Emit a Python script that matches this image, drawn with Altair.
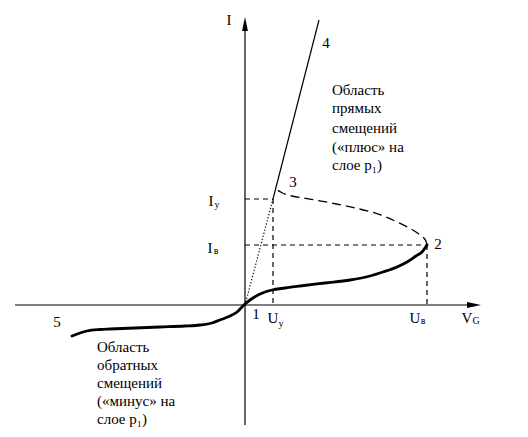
import altair as alt
import pandas as pd

# ---- data (schematic coordinates, origin at point 1) ----
low_x = [-173, -165, -158, -145, -135, -110, -85, -60, -45, -33, -25, -15, -8, -3, 0, 5, 13, 20, 27, 40, 55, 80, 105, 125, 138, 152, 162, 171, 177, 182]
low_y = [-31, -28, -26, -24.5, -24, -23, -22, -21, -20, -18, -15, -11, -7, -2, 1, 5, 10, 13, 15, 17, 19, 22, 25, 29, 33, 38, 43, 49, 53, 60]

neg_x = [182, 181, 177, 171, 165, 150, 135, 115, 92, 65, 45, 37, 32, 30]
neg_y = [60, 65, 69, 73, 77, 84, 91, 96, 101, 106, 109, 112, 115, 117]

on_x = [28, 74]
on_y = [106, 285]

dot_x = [0, 28]
dot_y = [0, 106]

guide_id = ["iy", "iy", "uy", "uy", "iv", "iv", "uv", "uv"]
guide_x = [0, 28, 28, 28, 0, 182, 182, 182]
guide_y = [106, 106, 106, 0, 60, 60, 60, 0]

axis_id = ["h", "h", "v", "v"]
axis_x = [-230, 230, 0, 0]
axis_y = [0, 0, -120, 283]

arrow_x = [0, 229]
arrow_y = [281, 0]
arrow_ang = [0, 90]

lab_text = ["I", "4", "3", "2", "1", "5", "I", "I", "U", "U", "V"]
lab_x = [-16, 81, 48, 193, 11, -188, -34, -35, 28, 170, 222]
lab_y = [285, 262, 123, 61, -9, -17, 104, 57, -13, -13, -13]

sub_text = ["у", "в", "у", "в", "G"]
sub_x = [-28, -29, 36, 178, 231]
sub_y = [100, 54, -19, -16, -16]

right_lines = ["Область", "прямых", "смещений", "(«плюс» на", "слое p₁)"]
right_y = [215, 197, 177, 158, 140]
left_lines = ["Область", "обратных", "смещений", "(«минус» на", "слое p₁)"]
left_y = [-42, -60, -78, -96, -114]

FONT = "Times New Roman"
xs = alt.Scale(domain=[-237, 275], nice=False, zero=False)
ys = alt.Scale(domain=[-124, 297], nice=False, zero=False)


def seq(xv, yv, ids=None):
    d = pd.DataFrame({"x": xv, "y": yv, "i": list(range(len(xv)))})
    if ids is not None:
        d["s"] = ids
    return d


def pos():
    return dict(x=alt.X("x:Q", scale=xs, axis=None), y=alt.Y("y:Q", scale=ys, axis=None))


def line_layer(df, detail=False, **kw):
    enc = pos()
    enc["order"] = alt.Order("i:Q")
    if detail:
        enc["detail"] = alt.Detail("s:N")
    return alt.Chart(df).mark_line(color="black", **kw).encode(**enc)


axes = line_layer(seq(axis_x, axis_y, axis_id), detail=True, strokeWidth=1.2)
guides = line_layer(seq(guide_x, guide_y, guide_id), detail=True, strokeWidth=1.2,
                    strokeDash=[5, 4], strokeCap="butt")
low = line_layer(seq(low_x, low_y), strokeWidth=2.8, interpolate="monotone", strokeCap="round")
neg = line_layer(seq(neg_x, neg_y), strokeWidth=1.3, strokeDash=[9, 5],
                 interpolate="basis", strokeCap="butt")
on = line_layer(seq(on_x, on_y), strokeWidth=1.2)
dot = line_layer(seq(dot_x, dot_y), strokeWidth=1.2, strokeDash=[1.2, 2], strokeCap="butt")

arrows = alt.Chart(pd.DataFrame({"x": arrow_x, "y": arrow_y, "a": arrow_ang})).mark_point(
    shape="M0,-1L0.42,1L-0.42,1Z", filled=True, color="black", opacity=1, size=196
).encode(angle=alt.Angle("a:Q", scale=None), **pos())


def text_layer(xv, yv, tv, size, align):
    df = pd.DataFrame({"x": xv, "y": yv, "t": tv})
    return alt.Chart(df).mark_text(
        font=FONT, fontSize=size, color="black", align=align, baseline="middle"
    ).encode(text="t:N", **pos())


labels = text_layer(lab_x, lab_y, lab_text, 15, "center")
subs = text_layer(sub_x, sub_y, sub_text, 10, "center")
rt = text_layer([87] * 5, right_y, right_lines, 15, "left")
lt = text_layer([-148] * 5, left_y, left_lines, 15, "left")

chart = alt.layer(axes, guides, dot, on, neg, low, arrows, labels, subs, rt, lt).properties(
    width=512, height=421, autosize=alt.AutoSizeParams(type="none"), padding=0,
    background="white",
).configure_view(stroke=None)

chart.save("out.html", embed_options={"renderer": "svg", "actions": False})
